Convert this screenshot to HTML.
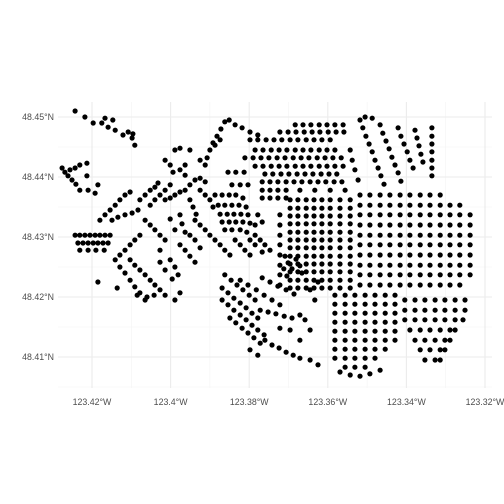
<!DOCTYPE html>
<html><head><meta charset="utf-8"><title>Point map</title>
<style>
html,body{margin:0;padding:0;background:#fff;}
svg{display:block;font-family:"Liberation Sans",sans-serif;}
</style></head>
<body>
<svg id="chart" width="504" height="504" viewBox="0 0 504 504" xmlns="http://www.w3.org/2000/svg">
<g id="grid"></g>
<g id="axes"></g>
<g id="pts"></g>
</svg>
<script>
const lonTicks = [-123.42,-123.40,-123.38,-123.36,-123.34,-123.32];
const lonTickLabels = ["123.42°W","123.4°W","123.38°W","123.36°W","123.34°W","123.32°W"];
const latTicks = [48.45,48.44,48.43,48.42,48.41];
const latTickLabels = ["48.45°N","48.44°N","48.43°N","48.42°N","48.41°N"];

const westPts = [
[-123.4243,48.451],[-123.4218,48.45],[-123.4197,48.449],[-123.4175,48.449],[-123.4159,48.4483],[-123.4141,48.4478],[-123.4121,48.447],[-123.4098,48.4465],[-123.4091,48.4453],[-123.4167,48.4498],[-123.4147,48.4495],[-123.4108,48.4475],[-123.4096,48.4472],
[-123.4276,48.4415],[-123.4269,48.4408],[-123.4256,48.4412],[-123.4261,48.4402],[-123.4243,48.4415],[-123.4231,48.442],[-123.4213,48.4423],[-123.4251,48.4395],[-123.4241,48.4388],[-123.4231,48.4378],[-123.421,48.4378],[-123.4192,48.4373],[-123.4185,48.4387],[-123.4213,48.4402],
[-123.4243,48.4303],[-123.4231,48.4303],[-123.4218,48.4303],[-123.4205,48.4303],[-123.4192,48.4303],[-123.418,48.4303],[-123.4167,48.4303],[-123.4154,48.4303],
[-123.4236,48.429],[-123.4223,48.429],[-123.421,48.429],[-123.4197,48.429],[-123.4185,48.429],[-123.4172,48.429],[-123.4159,48.429],
[-123.4231,48.4278],[-123.421,48.4278],[-123.419,48.4278],[-123.4169,48.4278],
[-123.4154,48.4345],[-123.4141,48.4353],[-123.4129,48.4362],[-123.4116,48.437],[-123.4103,48.4375],[-123.4167,48.4337],[-123.418,48.4328],[-123.4149,48.4328],[-123.4134,48.4333],[-123.4116,48.4337],[-123.4098,48.434],[-123.4083,48.4345],
[-123.4078,48.4362],[-123.4065,48.437],[-123.4052,48.4378],[-123.404,48.4383],[-123.4032,48.439],[-123.4052,48.4353],[-123.404,48.4362],[-123.4027,48.437],[-123.4014,48.4378],[-123.4001,48.4387],
[-123.4065,48.4328],[-123.4052,48.432],[-123.404,48.4312],[-123.4027,48.4303],[-123.4014,48.4295],[-123.4027,48.4278],[-123.4078,48.4303],[-123.4091,48.4295],[-123.4103,48.4287],[-123.4116,48.4278],[-123.4129,48.427],
[-123.4103,48.4262],[-123.4091,48.4253],[-123.4078,48.4245],[-123.4065,48.4237],[-123.4052,48.4228],[-123.404,48.422],[-123.4027,48.4212],[-123.4014,48.4203],[-123.3989,48.4195],
[-123.4141,48.4262],[-123.4129,48.425],[-123.4116,48.424],[-123.4103,48.4228],[-123.4091,48.4217],[-123.4078,48.4207],[-123.4065,48.4195],
[-123.4001,48.4262],[-123.3989,48.425],[-123.3981,48.4237],[-123.3996,48.423],[-123.4014,48.4245],[-123.4027,48.4258],
[-123.3976,48.4337],[-123.3971,48.4322],[-123.3963,48.4308],[-123.3989,48.4312],[-123.4001,48.433],[-123.3951,48.4303],[-123.3938,48.4295],[-123.3925,48.4282],
[-123.3976,48.4287],[-123.3963,48.4278],[-123.3951,48.4268],[-123.3938,48.4258],
[-123.4014,48.4362],[-123.4001,48.4365],[-123.3989,48.437],[-123.3976,48.4375],[-123.3963,48.4378],[-123.3951,48.4387],[-123.3938,48.4395],[-123.3963,48.4403],[-123.3976,48.4412],[-123.3925,48.4398],[-123.3912,48.4392],[-123.3925,48.4378],[-123.3912,48.437],[-123.39,48.4362],[-123.3892,48.435],
[-123.4014,48.4428],[-123.4001,48.442],[-123.3994,48.4408],[-123.3989,48.4445],[-123.3976,48.4448],[-123.3951,48.4445],[-123.3925,48.4428],[-123.3912,48.442],[-123.3963,48.442],
[-123.4185,48.4225],[-123.4136,48.4215],[-123.4085,48.4203],[-123.406,48.42],[-123.4042,48.4203],[-123.3976,48.4207],
[-123.3887,48.437],[-123.3869,48.437],[-123.3851,48.437],[-123.3834,48.437],[-123.3816,48.4365],
[-123.3879,48.4353],[-123.3862,48.4353],[-123.3844,48.4353],[-123.3826,48.4353],[-123.3808,48.435],
[-123.3874,48.4338],[-123.3856,48.4338],[-123.3839,48.4338],[-123.3821,48.4338],[-123.3803,48.4337],
[-123.3869,48.4325],[-123.3851,48.4325],[-123.3834,48.4325],[-123.3816,48.4325],[-123.3798,48.4323],
[-123.3862,48.4312],[-123.3844,48.4312],[-123.3823,48.4312],[-123.3806,48.4308],[-123.3785,48.4303],[-123.3772,48.4295],[-123.376,48.4287],[-123.3747,48.4278],[-123.3767,48.4275],[-123.3785,48.4287],[-123.3798,48.4295],
[-123.3938,48.4328],[-123.3925,48.432],[-123.3912,48.4312],[-123.39,48.4303],[-123.3887,48.4295],[-123.3874,48.4287],[-123.3862,48.4278],[-123.3849,48.427],
[-123.3823,48.4287],[-123.3811,48.4278],[-123.3798,48.427],[-123.3836,48.4295],[-123.3785,48.432],[-123.3778,48.4337],[-123.3767,48.4325],
[-123.3951,48.4362],[-123.3943,48.435],[-123.3935,48.4338],
[-123.3907,48.4432],[-123.39,48.4445],[-123.3892,48.4457],[-123.3882,48.4468],[-123.3872,48.448],[-123.3862,48.4492],[-123.3851,48.4495],[-123.3887,48.4453],[-123.3874,48.4462]
];

const northPts = [
[-123.3683,48.4487],[-123.3663,48.4487],[-123.3643,48.4487],[-123.3622,48.4487],[-123.3602,48.4487],[-123.3582,48.4487],[-123.3561,48.4487],
[-123.3505,48.45],[-123.3487,48.4498],
[-123.3722,48.4475],[-123.3701,48.4475],[-123.3681,48.4475],[-123.366,48.4475],[-123.364,48.4475],[-123.362,48.4475],[-123.3599,48.4475],[-123.3579,48.4475],[-123.3559,48.4475],
[-123.3798,48.4462],[-123.3778,48.4462],[-123.3757,48.4462],[-123.3737,48.4462],[-123.3717,48.4462],[-123.3696,48.4462],[-123.3676,48.4462],[-123.3655,48.4462],[-123.3635,48.4462],[-123.3615,48.4462],[-123.3594,48.4462],
[-123.3836,48.4487],[-123.3818,48.4482],[-123.3798,48.4475],[-123.3778,48.447],
[-123.3785,48.4445],[-123.3765,48.4445],[-123.3744,48.4445],[-123.3724,48.4445],[-123.3704,48.4445],[-123.3683,48.4445],[-123.3663,48.4445],[-123.3643,48.4445],[-123.3622,48.4445],[-123.3602,48.4445],[-123.3582,48.4445],
[-123.3811,48.4432],[-123.379,48.4432],[-123.377,48.4432],[-123.375,48.4432],[-123.3729,48.4432],[-123.3709,48.4432],[-123.3688,48.4432],[-123.3668,48.4432],[-123.3648,48.4432],[-123.3627,48.4432],[-123.3607,48.4432],[-123.3587,48.4432],[-123.3566,48.4432],
[-123.3785,48.4418],[-123.3765,48.4418],[-123.3744,48.4418],[-123.3724,48.4418],[-123.3704,48.4418],[-123.3683,48.4418],[-123.3663,48.4418],[-123.3643,48.4418],[-123.3622,48.4418],[-123.3602,48.4418],[-123.3582,48.4418],[-123.3561,48.4418],
[-123.376,48.4405],[-123.374,48.4405],[-123.3719,48.4405],[-123.3699,48.4405],[-123.3678,48.4405],[-123.3658,48.4405],[-123.3638,48.4405],[-123.3617,48.4405],[-123.3597,48.4405],[-123.3577,48.4405],
[-123.3767,48.4392],[-123.3747,48.4392],[-123.3727,48.4392],[-123.3706,48.4392],[-123.3686,48.4392],[-123.3666,48.4392],[-123.3645,48.4392],[-123.3625,48.4392],[-123.3605,48.4392],[-123.3584,48.4392],[-123.3564,48.4392],
[-123.3767,48.4378],[-123.3747,48.4378],[-123.3727,48.4378],[-123.3706,48.4378],[-123.3671,48.4378],[-123.3633,48.4378],[-123.3594,48.4378],[-123.3556,48.4378],
[-123.3767,48.4365],[-123.3747,48.4365],[-123.3727,48.4365],[-123.3706,48.4365],
[-123.3854,48.4408],[-123.3834,48.4408],[-123.3813,48.4408],[-123.3844,48.4387],[-123.3823,48.4387],[-123.3803,48.4387],
[-123.3518,48.4495],[-123.3511,48.4482],[-123.3503,48.4468],[-123.3495,48.4455],[-123.3487,48.4442],[-123.348,48.4428],[-123.3472,48.4415],[-123.3465,48.4402],[-123.3457,48.4388],
[-123.3467,48.4487],[-123.346,48.4473],[-123.3452,48.446],[-123.3444,48.4447],[-123.3437,48.4433],[-123.3429,48.442],[-123.3421,48.4407],[-123.3414,48.4393],
[-123.3421,48.4482],[-123.3414,48.4468],[-123.3406,48.4455],[-123.3398,48.4442],[-123.3391,48.4428],[-123.3383,48.4415],
[-123.3378,48.4478],[-123.3373,48.4465],[-123.3368,48.4452],[-123.3363,48.4438],[-123.3358,48.4425],
[-123.3335,48.4482],[-123.3335,48.4468],[-123.3335,48.4455],[-123.3335,48.4442],[-123.3335,48.4428],[-123.3335,48.4415],[-123.3335,48.4402],
[-123.3543,48.4445],[-123.3538,48.4428],[-123.3531,48.4412],[-123.3523,48.4395],
[-123.3518,48.437],[-123.3493,48.437],[-123.3467,48.437],[-123.3442,48.437],[-123.3416,48.437],[-123.3391,48.437],[-123.3365,48.437],[-123.334,48.437],[-123.3314,48.437]
];

const centralPts = [
[-123.3696,48.4362],[-123.3696,48.4348],[-123.3696,48.4335],[-123.3696,48.4322],[-123.3696,48.4308],[-123.3696,48.4295],[-123.3696,48.4282],[-123.3696,48.4268],[-123.3696,48.4255],[-123.3696,48.4242],[-123.3696,48.4228],[-123.3696,48.4215],
[-123.3676,48.4362],[-123.3676,48.4348],[-123.3676,48.4335],[-123.3676,48.4322],[-123.3676,48.4308],[-123.3676,48.4295],[-123.3676,48.4282],[-123.3676,48.4268],[-123.3676,48.4255],[-123.3676,48.4242],[-123.3676,48.4228],[-123.3676,48.4215],
[-123.3655,48.4362],[-123.3655,48.4348],[-123.3655,48.4335],[-123.3655,48.4322],[-123.3655,48.4308],[-123.3655,48.4295],[-123.3655,48.4282],[-123.3655,48.4268],[-123.3655,48.4255],[-123.3655,48.4242],[-123.3655,48.4228],[-123.3655,48.4215],
[-123.3635,48.4362],[-123.3635,48.4348],[-123.3635,48.4335],[-123.3635,48.4322],[-123.3635,48.4308],[-123.3635,48.4295],[-123.3635,48.4282],[-123.3635,48.4268],[-123.3635,48.4255],[-123.3635,48.4242],[-123.3635,48.4228],[-123.3635,48.4215],
[-123.3615,48.4362],[-123.3615,48.4348],[-123.3615,48.4335],[-123.3615,48.4322],[-123.3615,48.4308],[-123.3615,48.4295],[-123.3615,48.4282],[-123.3615,48.4268],[-123.3615,48.4255],[-123.3615,48.4242],[-123.3615,48.4228],[-123.3615,48.4215],
[-123.3594,48.4362],[-123.3594,48.4348],[-123.3594,48.4335],[-123.3594,48.4322],[-123.3594,48.4308],[-123.3594,48.4295],[-123.3594,48.4282],[-123.3594,48.4268],[-123.3594,48.4255],[-123.3594,48.4242],[-123.3594,48.4228],[-123.3594,48.4215],
[-123.3569,48.4362],[-123.3569,48.4348],[-123.3569,48.4335],[-123.3569,48.4322],[-123.3569,48.4308],[-123.3569,48.4295],[-123.3569,48.4282],[-123.3569,48.4268],[-123.3569,48.4255],[-123.3569,48.4242],[-123.3569,48.4228],[-123.3569,48.4215],
[-123.3543,48.4362],[-123.3543,48.4348],[-123.3543,48.4335],[-123.3543,48.4322],[-123.3543,48.4308],[-123.3543,48.4295],[-123.3543,48.4282],[-123.3543,48.4268],[-123.3543,48.4255],[-123.3543,48.4242],[-123.3543,48.4228],[-123.3543,48.4215],
[-123.3709,48.4268],[-123.3701,48.4257],[-123.3691,48.4247],[-123.3681,48.4263],[-123.3671,48.4252],[-123.3712,48.4247],[-123.3666,48.424],[-123.3704,48.4235],
[-123.3722,48.4337],[-123.3722,48.432],[-123.3722,48.4303],[-123.3722,48.4287],[-123.3722,48.427],[-123.3722,48.4253],[-123.3722,48.4237],[-123.3722,48.422],
[-123.3518,48.4353],[-123.3493,48.4353],[-123.3467,48.4353],[-123.3442,48.4353],[-123.3416,48.4353],[-123.3391,48.4353],[-123.3365,48.4353],[-123.334,48.4353],[-123.3314,48.4353],[-123.3289,48.4353],[-123.3264,48.4353],
[-123.3518,48.4337],[-123.3493,48.4337],[-123.3467,48.4337],[-123.3442,48.4337],[-123.3416,48.4337],[-123.3391,48.4337],[-123.3365,48.4337],[-123.334,48.4337],[-123.3314,48.4337],[-123.3289,48.4337],[-123.3264,48.4337],[-123.3238,48.4337],
[-123.3518,48.432],[-123.3493,48.432],[-123.3467,48.432],[-123.3442,48.432],[-123.3416,48.432],[-123.3391,48.432],[-123.3365,48.432],[-123.334,48.432],[-123.3314,48.432],[-123.3289,48.432],[-123.3264,48.432],[-123.3238,48.432],
[-123.3518,48.4303],[-123.3493,48.4303],[-123.3467,48.4303],[-123.3442,48.4303],[-123.3416,48.4303],[-123.3391,48.4303],[-123.3365,48.4303],[-123.334,48.4303],[-123.3314,48.4303],[-123.3289,48.4303],[-123.3264,48.4303],[-123.3238,48.4303],
[-123.3518,48.4287],[-123.3493,48.4287],[-123.3467,48.4287],[-123.3442,48.4287],[-123.3416,48.4287],[-123.3391,48.4287],[-123.3365,48.4287],[-123.334,48.4287],[-123.3314,48.4287],[-123.3289,48.4287],[-123.3264,48.4287],[-123.3238,48.4287],
[-123.3518,48.427],[-123.3493,48.427],[-123.3467,48.427],[-123.3442,48.427],[-123.3416,48.427],[-123.3391,48.427],[-123.3365,48.427],[-123.334,48.427],[-123.3314,48.427],[-123.3289,48.427],[-123.3264,48.427],[-123.3238,48.427],
[-123.3518,48.4253],[-123.3493,48.4253],[-123.3467,48.4253],[-123.3442,48.4253],[-123.3416,48.4253],[-123.3391,48.4253],[-123.3365,48.4253],[-123.334,48.4253],[-123.3314,48.4253],[-123.3289,48.4253],[-123.3264,48.4253],[-123.3238,48.4253],
[-123.3518,48.4237],[-123.3493,48.4237],[-123.3467,48.4237],[-123.3442,48.4237],[-123.3416,48.4237],[-123.3391,48.4237],[-123.3365,48.4237],[-123.334,48.4237],[-123.3314,48.4237],[-123.3289,48.4237],[-123.3264,48.4237],[-123.3238,48.4237],
[-123.3518,48.422],[-123.3493,48.422],[-123.3467,48.422],[-123.3442,48.422],[-123.3416,48.422],[-123.3391,48.422],[-123.3365,48.422],[-123.334,48.422],[-123.3314,48.422],[-123.3289,48.422],[-123.3264,48.422]
];

const southPts = [
[-123.3862,48.4237],[-123.3846,48.4228],[-123.3831,48.422],[-123.3816,48.4212],[-123.38,48.4203],[-123.3785,48.4195],
[-123.3869,48.4215],[-123.3854,48.4207],[-123.3839,48.4198],[-123.3823,48.419],[-123.3808,48.4182],[-123.3793,48.4173],[-123.3778,48.4165],
[-123.3869,48.4195],[-123.3854,48.4187],[-123.3839,48.4178],[-123.3823,48.417],[-123.3808,48.4162],[-123.3793,48.4153],[-123.3778,48.4145],[-123.3762,48.4137],
[-123.3849,48.4165],[-123.3834,48.4157],[-123.3818,48.4148],[-123.3803,48.414],[-123.3788,48.4132],[-123.3772,48.4123],
[-123.3823,48.4228],[-123.3803,48.422],[-123.3782,48.4212],[-123.3762,48.4203],[-123.3742,48.4195],[-123.3722,48.4187],
[-123.3772,48.4178],[-123.3752,48.4175],[-123.3732,48.4172],[-123.3711,48.4168],[-123.3691,48.4165],[-123.3671,48.417],
[-123.3767,48.4232],[-123.3747,48.4225],[-123.3727,48.4218],[-123.3706,48.4212],[-123.3686,48.4205],
[-123.376,48.4128],[-123.3742,48.412],[-123.3724,48.4115],[-123.3706,48.4108],[-123.3688,48.4103],[-123.3671,48.4098],
[-123.3798,48.4112],[-123.3778,48.4103],[-123.3645,48.4095],[-123.3625,48.4087],[-123.3671,48.4128],[-123.3696,48.4145],[-123.3722,48.4148],[-123.3645,48.4145],[-123.3658,48.4162],[-123.3633,48.4195],[-123.3645,48.4212],[-123.3625,48.4225],
[-123.3582,48.4203],[-123.3582,48.4188],[-123.3582,48.4173],[-123.3582,48.4158],[-123.3582,48.4143],[-123.3582,48.4128],[-123.3582,48.4113],[-123.3582,48.4098],
[-123.3556,48.4203],[-123.3556,48.4188],[-123.3556,48.4173],[-123.3556,48.4158],[-123.3556,48.4143],[-123.3556,48.4128],[-123.3556,48.4113],[-123.3556,48.4098],[-123.3556,48.4083],
[-123.3531,48.4203],[-123.3531,48.4188],[-123.3531,48.4173],[-123.3531,48.4158],[-123.3531,48.4143],[-123.3531,48.4128],[-123.3531,48.4113],[-123.3531,48.4098],[-123.3531,48.4083],
[-123.3505,48.4203],[-123.3505,48.4188],[-123.3505,48.4173],[-123.3505,48.4158],[-123.3505,48.4143],[-123.3505,48.4128],[-123.3505,48.4113],[-123.3505,48.4098],[-123.3505,48.4083],
[-123.348,48.4203],[-123.348,48.4188],[-123.348,48.4173],[-123.348,48.4158],[-123.348,48.4143],[-123.348,48.4128],[-123.348,48.4113],[-123.348,48.4098],
[-123.3454,48.4203],[-123.3454,48.4188],[-123.3454,48.4173],[-123.3454,48.4158],[-123.3454,48.4143],[-123.3454,48.4128],[-123.3454,48.4113],
[-123.3429,48.4203],[-123.3429,48.4188],[-123.3429,48.4173],[-123.3429,48.4158],[-123.3429,48.4143],[-123.3429,48.4128],
[-123.3569,48.4075],[-123.3543,48.407],[-123.3518,48.4068],[-123.3493,48.4072],[-123.3467,48.4078],
[-123.3404,48.4195],[-123.3378,48.4195],[-123.3353,48.4195],[-123.3327,48.4195],[-123.3302,48.4195],[-123.3276,48.4195],[-123.3251,48.4195],
[-123.3404,48.4178],[-123.3378,48.4178],[-123.3353,48.4178],[-123.3327,48.4178],[-123.3302,48.4178],[-123.3276,48.4178],[-123.3251,48.4178],
[-123.3404,48.4162],[-123.3378,48.4162],[-123.3353,48.4162],[-123.3327,48.4162],[-123.3302,48.4162],[-123.3276,48.4162],[-123.3256,48.4162],
[-123.3391,48.4145],[-123.3365,48.4145],[-123.334,48.4145],[-123.3314,48.4145],[-123.3289,48.4145],[-123.3276,48.4145],
[-123.3378,48.4128],[-123.3353,48.4128],[-123.3327,48.4128],[-123.3302,48.4128],[-123.3289,48.4128],
[-123.3365,48.4112],[-123.334,48.4112],[-123.3314,48.4112],[-123.3302,48.4112],
[-123.3353,48.4095],[-123.3327,48.4095],[-123.3314,48.4095]
];

const allPts = westPts.concat(northPts, centralPts, southPts);

const NS = "http://www.w3.org/2000/svg";
const X0 = 92, XK = 3930, Y0 = 117, YK = 6000;
function xScale(lon){ return X0 + (lon - (-123.42)) * XK; }
function yScale(lat){ return Y0 + (48.45 - lat) * YK; }
const panel = {l:58, r:492, t:102, b:388};

const grid = document.getElementById('grid');
function line(x1,y1,x2,y2,c,w){
  const l = document.createElementNS(NS,'line');
  l.setAttribute('x1',x1); l.setAttribute('y1',y1); l.setAttribute('x2',x2); l.setAttribute('y2',y2);
  l.setAttribute('stroke',c); l.setAttribute('stroke-width',w);
  return l;
}
for (let i=0;i<lonTicks.length-1;i++){
  const m = line(xScale((lonTicks[i]+lonTicks[i+1])/2),panel.t,xScale((lonTicks[i]+lonTicks[i+1])/2),panel.b,'#f4f4f4',0.6);
  
  
  grid.appendChild(m);
}
for (let i=0;i<latTicks.length-1;i++){
  const yy = yScale((latTicks[i]+latTicks[i+1])/2);
  const m = line(panel.l,yy,panel.r,yy,'#f4f4f4',0.6);
  
  
  grid.appendChild(m);
}
const yMinorExtra = [48.405];
yMinorExtra.forEach(v=>{
  const m = line(panel.l,yScale(v),panel.r,yScale(v),'#f4f4f4',0.6);
  
  
  grid.appendChild(m);
});
const axes = document.getElementById('axes');
lonTicks.forEach((v,i)=>{
  const g = line(xScale(v),panel.t,xScale(v),panel.b,'#ebebeb',1.1);
  
  
  grid.appendChild(g);
  const t = document.createElementNS(NS,'text');
  t.setAttribute('x',xScale(v)); t.setAttribute('y',405);
  t.setAttribute('text-anchor','middle'); t.setAttribute('font-size','8.8'); t.setAttribute('fill','#4d4d4d');
  t.textContent = lonTickLabels[i];
  
  
  axes.appendChild(t);
});
latTicks.forEach((v,i)=>{
  const g = line(panel.l,yScale(v),panel.r,yScale(v),'#ebebeb',1.1);
  
  
  grid.appendChild(g);
  const t = document.createElementNS(NS,'text');
  t.setAttribute('x',54); t.setAttribute('y',yScale(v)+3);
  t.setAttribute('text-anchor','end'); t.setAttribute('font-size','8.8'); t.setAttribute('fill','#4d4d4d');
  t.textContent = latTickLabels[i];
  
  
  axes.appendChild(t);
});
const ptsG = document.getElementById('pts');
allPts.forEach(p=>{
  const c = document.createElementNS(NS,'circle');
  c.setAttribute('cx',xScale(p[0]).toFixed(1));
  c.setAttribute('cy',yScale(p[1]).toFixed(1));
  c.setAttribute('r',2.6);
  c.setAttribute('fill','#000');
  
  
  ptsG.appendChild(c);
});
</script>
</body></html>
